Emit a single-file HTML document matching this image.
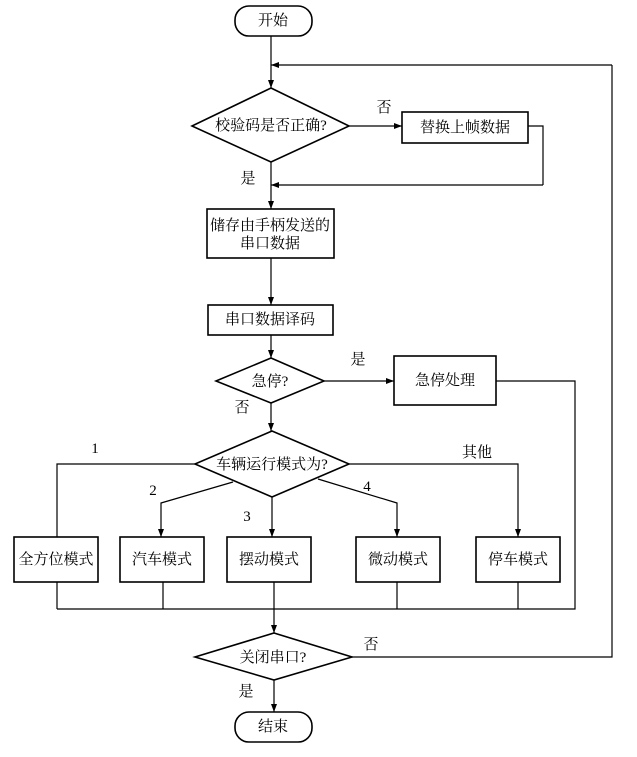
<!DOCTYPE html>
<html><head><meta charset="utf-8"><style>
html,body{margin:0;padding:0;background:#fff;}
svg text{font-family:"Liberation Serif","Noto Serif CJK SC","Noto Sans CJK SC",serif;font-size:15px;fill:#000;}
</style></head><body>
<svg width="637" height="752" viewBox="0 0 637 752" xmlns="http://www.w3.org/2000/svg">
<defs><marker id="a" markerWidth="8" markerHeight="6" refX="8" refY="3" orient="auto" markerUnits="userSpaceOnUse"><path d="M0,0 L8,3 L0,6 Z" fill="#000"/></marker></defs>
<g fill="none" stroke="#000" stroke-width="1.2">
<rect x="235" y="6" width="77" height="30" rx="14" stroke-width="1.6"/>
<line x1="271" y1="36" x2="271" y2="88" marker-end="url(#a)"/>
<polyline points="612,65 612,657 352,657"/>
<line x1="612" y1="65" x2="271" y2="65" marker-end="url(#a)"/>
<polygon points="271,88 349,126 271,162 192,126" stroke-width="1.6"/>
<line x1="349" y1="126" x2="402" y2="126" marker-end="url(#a)"/>
<rect x="402" y="112" width="126" height="31" stroke-width="1.6"/>
<polyline points="528,126 543,126 543,185"/>
<line x1="543" y1="185" x2="271" y2="185" marker-end="url(#a)"/>
<line x1="271" y1="162" x2="271" y2="209" marker-end="url(#a)"/>
<rect x="207" y="209" width="127" height="49" stroke-width="1.6"/>
<line x1="271" y1="258" x2="271" y2="305" marker-end="url(#a)"/>
<rect x="208" y="305" width="125" height="30" stroke-width="1.6"/>
<line x1="271" y1="335" x2="271" y2="358" marker-end="url(#a)"/>
<polygon points="271,358 324,381 271,403 216,381" stroke-width="1.6"/>
<line x1="324" y1="381" x2="394" y2="381" marker-end="url(#a)"/>
<rect x="394" y="356" width="102" height="49" stroke-width="1.6"/>
<polyline points="496,381 575,381 575,609 57,609"/>
<line x1="271" y1="403" x2="271" y2="431" marker-end="url(#a)"/>
<polygon points="272,431 349,464 272,497 195,464" stroke-width="1.6"/>
<polyline points="195,464 57,464 57,537"/>
<polyline points="349,464 518,464 518,537" marker-end="url(#a)"/>
<polyline points="233,482 161,503 161,537" marker-end="url(#a)"/>
<polyline points="318,479 397,503 397,537" marker-end="url(#a)"/>
<line x1="272" y1="497" x2="272" y2="537" marker-end="url(#a)"/>
<rect x="14" y="537" width="84" height="45" stroke-width="1.6"/>
<rect x="120" y="537" width="84" height="45" stroke-width="1.6"/>
<rect x="227" y="537" width="84" height="45" stroke-width="1.6"/>
<rect x="356" y="537" width="84" height="45" stroke-width="1.6"/>
<rect x="476" y="537" width="84" height="45" stroke-width="1.6"/>
<line x1="57" y1="582" x2="57" y2="609"/>
<line x1="163" y1="582" x2="163" y2="609"/>
<line x1="397" y1="582" x2="397" y2="609"/>
<line x1="518" y1="582" x2="518" y2="609"/>
<line x1="274" y1="582" x2="274" y2="633" marker-end="url(#a)"/>
<polygon points="274,633 352,657 274,680 195,657" stroke-width="1.6"/>
<line x1="274" y1="680" x2="274" y2="712" marker-end="url(#a)"/>
<rect x="235" y="712" width="77" height="30" rx="14" stroke-width="1.6"/>
</g>
<g text-anchor="middle" dominant-baseline="central">
<text x="273" y="21">开始</text>
<text x="271" y="126">校验码是否正确?</text>
<text x="384" y="108">否</text>
<text x="465" y="128">替换上帧数据</text>
<text x="248" y="179">是</text>
<text x="270" y="226">储存由手柄发送的</text>
<text x="270" y="244">串口数据</text>
<text x="270" y="320">串口数据译码</text>
<text x="358" y="360">是</text>
<text x="270" y="382">急停?</text>
<text x="445" y="381">急停处理</text>
<text x="242" y="408">否</text>
<text x="272" y="465">车辆运行模式为?</text>
<text x="95" y="449">1</text>
<text x="477" y="453">其他</text>
<text x="153" y="491">2</text>
<text x="367" y="487">4</text>
<text x="247" y="517">3</text>
<text x="56" y="560">全方位模式</text>
<text x="162" y="560">汽车模式</text>
<text x="269" y="560">摆动模式</text>
<text x="398" y="560">微动模式</text>
<text x="518" y="560">停车模式</text>
<text x="371" y="645">否</text>
<text x="273" y="658">关闭串口?</text>
<text x="246" y="692">是</text>
<text x="273" y="727">结束</text>
</g>
</svg>
</body></html>
